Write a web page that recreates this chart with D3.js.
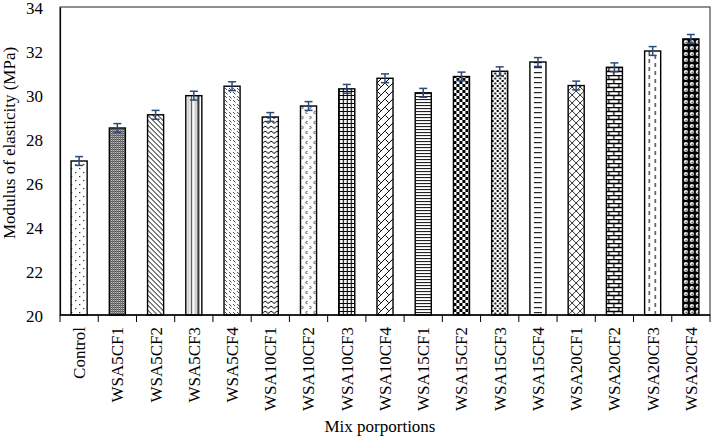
<!DOCTYPE html>
<html>
<head>
<meta charset="utf-8">
<script src="https://cdn.jsdelivr.net/npm/d3@7"></script>
<style>
  html, body { margin: 0; padding: 0; background: #fff; }
  svg text { font-family: "Liberation Serif", "Times New Roman", serif; fill: #000; }
</style>
</head>
<body>
<svg id="chart" width="721" height="444"></svg>
<script>
const categories = ["Control","WSA5CF1","WSA5CF2","WSA5CF3","WSA5CF4","WSA10CF1","WSA10CF2","WSA10CF3","WSA10CF4","WSA15CF1","WSA15CF2","WSA15CF3","WSA15CF4","WSA20CF1","WSA20CF2","WSA20CF3","WSA20CF4"];
const values = [27.0, 28.5, 29.1, 29.97, 30.4, 29.0, 29.5, 30.28, 30.76, 30.1, 30.84, 31.08, 31.5, 30.43, 31.26, 32.0, 32.55];
const errors = [0.2, 0.2, 0.2, 0.2, 0.2, 0.2, 0.2, 0.2, 0.2, 0.2, 0.2, 0.2, 0.2, 0.2, 0.2, 0.2, 0.2];
const yTicks = [20, 22, 24, 26, 28, 30, 32, 34];
const yDomain = [20, 34];
const xTitle = "Mix porportions";
const yTitle = "Modulus of elasticity (MPa)";

const svg = d3.select("#chart");
const margin = {left: 60, right: 11, top: 7, bottom: 129};
const W = 721, H = 444;
const x = d3.scaleBand().domain(categories).range([margin.left, W - margin.right]).paddingInner(0.58).paddingOuter(0.29);
const y = d3.scaleLinear().domain(yDomain).range([H - margin.bottom, margin.top]);

// ---- patterns (aligned to each bar's left/bottom) ----
const defs = svg.append("defs");
function pat(i, w, h, bg, build) {
  const p = defs.append("pattern").attr("id", "p" + i).attr("patternUnits", "userSpaceOnUse")
    .attr("x", x(categories[i])).attr("y", y(yDomain[0]))
    .attr("width", w).attr("height", h);
  p.append("rect").attr("width", w).attr("height", h).attr("fill", bg);
  build(p);
}
const K = "#000";
pat(0, 8, 8, "#fff", p => { p.append("rect").attr("x",4).attr("y",1).attr("width",1.2).attr("height",1.2).attr("fill","#222");
                            p.append("rect").attr("x",10).attr("y",5).attr("width",1.2).attr("height",1.2).attr("fill","#222");
                            p.append("rect").attr("x",0).attr("y",5).attr("width",1.2).attr("height",1.2).attr("fill","#222"); });
pat(1, 2, 2, "#fff", p => { p.append("rect").attr("width",1).attr("height",1).attr("fill","#333");
                            p.append("rect").attr("x",1).attr("y",1).attr("width",1).attr("height",1).attr("fill","#333");
                            p.append("rect").attr("x",1).attr("y",0).attr("width",1).attr("height",1).attr("fill","#999"); });
pat(2, 5, 5, "#fff", p => { p.append("path").attr("d","M-1,-1 L6,6 M-1,4 L1,6 M4,-1 L6,1").attr("stroke",K).attr("stroke-width",1); });
pat(3, 16, 6, "#fff", p => { p.append("rect").attr("x",1.5).attr("width",2).attr("height",6).attr("fill","#ccc");
                             p.append("rect").attr("x",5).attr("width",1.2).attr("height",6).attr("fill","#444");
                             p.append("rect").attr("x",8.5).attr("width",2).attr("height",6).attr("fill","#ccc");
                             p.append("rect").attr("x",11.5).attr("width",2).attr("height",6).attr("fill","#222"); });
pat(4, 8, 8, "#fff", p => { p.append("path").attr("d","M1,1 L3.5,3.5 M5,5 L7.5,7.5 M5,0 L7,2 M1,5 L3,7").attr("stroke","#333").attr("stroke-width",0.9); });
pat(5, 6, 5, "#fff", p => { p.append("path").attr("d","M0,3.5 L3,1 L6,3.5").attr("stroke",K).attr("stroke-width",1).attr("fill","none"); });
pat(6, 8, 10, "#fff", p => { p.append("path").attr("d","M1,1 L3,2.5 L1,4 M7,6 L5,7.5 L7,9").attr("stroke","#333").attr("stroke-width",0.9).attr("fill","none"); });
pat(7, 4, 4, "#fff", p => { p.append("path").attr("d","M0,0.5 H4 M0.5,0 V4").attr("stroke",K).attr("stroke-width",1.2); });
pat(8, 8, 8, "#fff", p => { p.append("path").attr("d","M0,8 L8,0 M-1,1 L1,-1 M7,9 L9,7 M0.5,0.5 L3.5,3.5").attr("stroke",K).attr("stroke-width",1).attr("fill","none"); });
pat(9, 3, 3, "#fff", p => { p.append("rect").attr("y",0).attr("width",3).attr("height",1.1).attr("fill","#222"); });
pat(10, 6, 6, "#fff", p => { p.append("rect").attr("width",3).attr("height",3).attr("fill",K);
                             p.append("rect").attr("x",3).attr("y",3).attr("width",3).attr("height",3).attr("fill",K); });
pat(11, 5, 5, "#fff", p => { p.append("rect").attr("width",2).attr("height",2).attr("fill",K);
                             p.append("rect").attr("x",2.5).attr("y",2.5).attr("width",2).attr("height",2).attr("fill",K); });
pat(12, 16, 5, "#fff", p => { p.append("rect").attr("x",4).attr("y",2).attr("width",8).attr("height",1.2).attr("fill","#222"); });
pat(13, 8, 8, "#fff", p => { p.append("path").attr("d","M0,0 L8,8 M8,0 L0,8").attr("stroke","#333").attr("stroke-width",1); });
pat(14, 10, 8, "#fff", p => { p.append("path").attr("d","M0,0.5 H10 M0,4.5 H10 M2.5,0 V4 M7.5,4 V8").attr("stroke",K).attr("stroke-width",1.3); });
pat(15, 16, 8, "#fff", p => { p.append("rect").attr("x",4).attr("y",0).attr("width",1.2).attr("height",4).attr("fill","#222");
                              p.append("rect").attr("x",10).attr("y",4).attr("width",1.2).attr("height",4).attr("fill","#222"); });
pat(16, 6, 6, "#000", p => { p.append("circle").attr("cx",3).attr("cy",3).attr("r",2.1).attr("fill","#fff");
                             p.append("circle").attr("cx",3.4).attr("cy",3.4).attr("r",0.9).attr("fill","#555"); });

// ---- bars ----
const data = categories.map((c, i) => ({c, v: values[i], e: errors[i], i}));
svg.append("g").selectAll("rect").data(data).join("rect")
  .attr("x", d => x(d.c)).attr("width", x.bandwidth())
  .attr("y", d => y(d.v)).attr("height", d => y(yDomain[0]) - y(d.v))
  .attr("fill", d => `url(#p${d.i})`).attr("stroke", "#000").attr("stroke-width", 1.4);

// ---- error bars ----
const eb = svg.append("g").attr("stroke", "#2c4a7a").attr("stroke-width", 1.5);
data.forEach(d => {
  const cx = x(d.c) + x.bandwidth() / 2;
  eb.append("line").attr("x1", cx).attr("x2", cx).attr("y1", y(d.v + d.e)).attr("y2", y(d.v - d.e));
  eb.append("line").attr("x1", cx - 4).attr("x2", cx + 4).attr("y1", y(d.v + d.e)).attr("y2", y(d.v + d.e));
  eb.append("line").attr("x1", cx - 4).attr("x2", cx + 4).attr("y1", y(d.v - d.e)).attr("y2", y(d.v - d.e));
});

// ---- frame ----
svg.append("rect").attr("x", margin.left).attr("y", margin.top)
  .attr("width", W - margin.right - margin.left).attr("height", H - margin.bottom - margin.top)
  .attr("fill", "none").attr("stroke", "#222").attr("stroke-width", 1);

// ---- y axis ----
const yAxis = svg.append("g").attr("transform", `translate(${margin.left},0)`)
  .call(d3.axisLeft(y).tickValues(yTicks).tickSize(0).tickPadding(17).tickFormat(d3.format("d")));
yAxis.select(".domain").attr("stroke", "#000").attr("stroke-width", 1.2);
yAxis.selectAll("text").attr("font-size", 17).attr("font-family", "Liberation Serif").attr("dy", "0.36em");

// ---- x axis ----
const step = x.step();
const boundaries = d3.range(categories.length + 1).map(i => margin.left + i * step);
const xAxisG = svg.append("g");
xAxisG.append("line").attr("x1", margin.left).attr("x2", W - margin.right)
  .attr("y1", y(yDomain[0])).attr("y2", y(yDomain[0])).attr("stroke", "#000").attr("stroke-width", 1.4);
xAxisG.selectAll("line.tick").data(boundaries).join("line").attr("class", "tick")
  .attr("x1", d => d).attr("x2", d => d).attr("y1", y(yDomain[0])).attr("y2", y(yDomain[0]) + 7)
  .attr("stroke", "#000").attr("stroke-width", 1);
xAxisG.selectAll("text").data(categories).join("text")
  .attr("transform", d => `translate(${x(d) + x.bandwidth() / 2},${y(yDomain[0]) + 12}) rotate(-90)`)
  .attr("text-anchor", "end").attr("dy", "0.35em").attr("font-size", 17).text(d => d);

// ---- titles ----
svg.append("text").attr("x", 380).attr("y", 432).attr("text-anchor", "middle").attr("font-size", 17).text(xTitle);
svg.append("text").attr("transform", "translate(15,143) rotate(-90)").attr("text-anchor", "middle").attr("font-size", 17).text(yTitle);
</script>
</body>
</html>
